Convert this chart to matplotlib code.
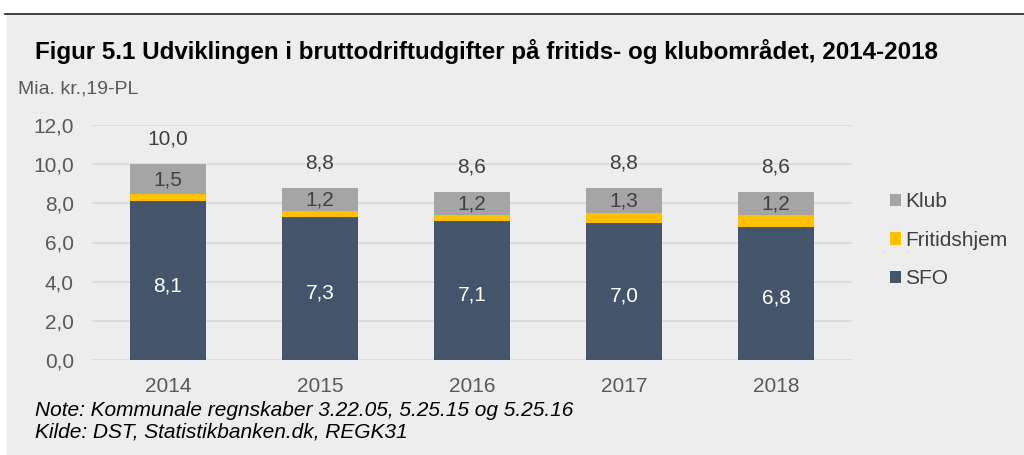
import numpy as np
import matplotlib.pyplot as plt
from matplotlib.patches import Rectangle
from matplotlib.lines import Line2D

plt.rcParams['font.family'] = ['Liberation Sans', 'DejaVu Sans']

years = ['2014', '2015', '2016', '2017', '2018']
sfo = [8.1, 7.3, 7.1, 7.0, 6.8]
fritidshjem = [0.4, 0.3, 0.3, 0.5, 0.6]
klub = [1.5, 1.2, 1.2, 1.3, 1.2]
totals = [10.0, 8.8, 8.6, 8.8, 8.6]

bg = '#EDEDED'
c_sfo = '#44546A'
c_frit = '#FFC000'
c_klub = '#A5A5A5'
txt = '#404040'
fs = 15


def fmt(v):
    return f'{v:.1f}'.replace('.', ',')


fig = plt.figure(figsize=(10.24, 4.55), dpi=100)
fig.patch.set_facecolor('white')
# grey panel and top rule
fig.add_artist(Rectangle((7 / 1024, 0), 1, 1 - 15 / 455, transform=fig.transFigure,
                         facecolor=bg, edgecolor='none', zorder=-10))
fig.add_artist(Line2D([5 / 1024, 1], [1 - 14 / 455, 1 - 14 / 455], transform=fig.transFigure,
                      color='#222222', lw=1.2))

ax = fig.add_axes([92 / 1024, 1 - 360 / 455, 760 / 1024, 235 / 455])
ax.set_facecolor(bg)
x = np.arange(len(years))
w = 0.5
ax.bar(x, sfo, w, color=c_sfo, label='SFO', zorder=3)
ax.bar(x, fritidshjem, w, bottom=sfo, color=c_frit, label='Fritidshjem', zorder=3)
bot = np.array(sfo) + np.array(fritidshjem)
ax.bar(x, klub, w, bottom=bot, color=c_klub, label='Klub', zorder=3)

for i in range(len(years)):
    ax.text(x[i], sfo[i] / 2 - 0.25, fmt(sfo[i]), ha='center', va='center',
            color='white', fontsize=fs)
    ax.text(x[i], bot[i] + klub[i] / 2 - 0.05, fmt(klub[i]), ha='center', va='center',
            color=txt, fontsize=fs)
    ax.text(x[i], totals[i] + 1.27, fmt(totals[i]), ha='center', va='center',
            color=txt, fontsize=fs)

ax.set_xlim(-0.5, len(years) - 0.5)
ax.set_ylim(0, 12)
ax.set_yticks(np.arange(0, 12.1, 2))
ax.set_yticklabels([fmt(v) for v in np.arange(0, 12.1, 2)])
ax.set_xticks(x)
ax.set_xticklabels(years)
ax.tick_params(axis='both', length=0, labelsize=fs, labelcolor='#595959')
ax.tick_params(axis='y', pad=13)
ax.tick_params(axis='x', pad=12)
ax.grid(axis='y', color='#D9D9D9', lw=1.2, zorder=0)
for s in ax.spines.values():
    s.set_visible(False)

h, l = ax.get_legend_handles_labels()
fig.legend(h[::-1], l[::-1], loc='upper left', bbox_to_anchor=(886 / 1024, 1 - 188 / 455),
           frameon=False, fontsize=fs, handlelength=0.53, handleheight=0.53,
           handletextpad=0.2, labelspacing=0.94, labelcolor='#404040',
           borderpad=0.2, borderaxespad=0)

fig.text(35 / 1024, 1 - 51 / 455, 'Figur 5.1 Udviklingen i bruttodriftudgifter på fritids- og klubområdet, 2014-2018',
         fontsize=17.4, fontweight='bold', color='black', va='center')
fig.text(18 / 1024, 1 - 89 / 455, 'Mia. kr.,19-PL', fontsize=14, color='#595959', va='center')
fig.text(35 / 1024, 1 - 411 / 455, 'Note: Kommunale regnskaber 3.22.05, 5.25.15 og 5.25.16',
         fontsize=fs, style='italic', color='black', va='center')
fig.text(35 / 1024, 1 - 432 / 455, 'Kilde: DST, Statistikbanken.dk, REGK31',
         fontsize=fs, style='italic', color='black', va='center')

fig.savefig('out.png', dpi=100, facecolor=fig.get_facecolor())
